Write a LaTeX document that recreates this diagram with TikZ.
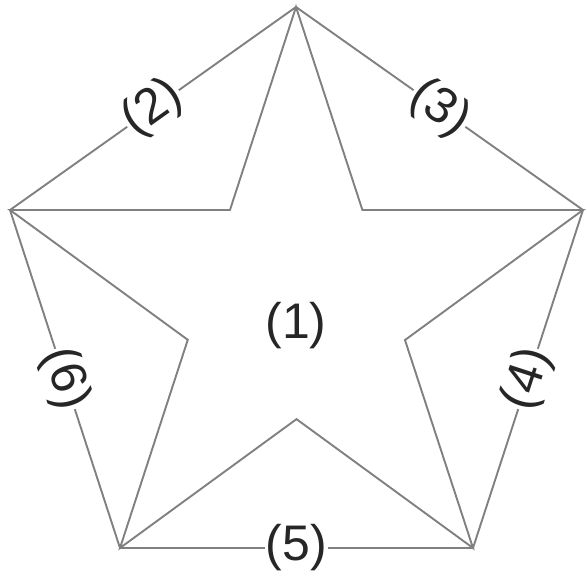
\documentclass[tikz,border=0pt]{standalone}
\usepackage{fontspec}
\setmainfont{Liberation Sans}
\usetikzlibrary{calc}
\begin{document}
\begin{tikzpicture}[x=1pt,y=-1pt,
  edge/.style={draw=black!50,line width=1.9pt,line join=miter},
  lbl/.style={fill=white,inner sep=1pt,text=black!85,font=\fontsize{50}{50}\selectfont}]
\useasboundingbox (0,0) rectangle (587,577);
\coordinate (T) at (296,7);
\coordinate (R) at (583,210);
\coordinate (BR) at (473,548);
\coordinate (BL) at (120,548);
\coordinate (L) at (10,210);
\coordinate (i1) at (intersection of T--BL and L--R);
\coordinate (i2) at (intersection of T--BR and L--R);
\coordinate (i3) at (intersection of T--BR and R--BL);
\coordinate (i4) at (intersection of R--BL and L--BR);
\coordinate (i5) at (intersection of L--BR and T--BL);
\draw[edge] (T) -- (R) -- (BR) -- (BL) -- (L) -- cycle;
\draw[edge] (T) -- (i1) -- (L) -- (i5) -- (BL) -- (i4) -- (BR) -- (i3) -- (R) -- (i2) -- cycle;
\node[lbl,fill=none] (n1) at (296,326) {(1)};
\node[lbl,rotate=35.5] (n2) at ($(L)!0.5!(T)$) {(2)};
\node[lbl,rotate=-35] (n3) at ($(T)!0.5!(R)$) {(3)};
\node[lbl,rotate=72] (n4) at ($(R)!0.5!(BR)$) {(4)};
\node[lbl] (n5) at ($(BR)!0.5!(BL)$) {(5)};
\node[lbl,rotate=-72] (n6) at ($(BL)!0.5!(L)$) {(6)};
\end{tikzpicture}
\end{document}
